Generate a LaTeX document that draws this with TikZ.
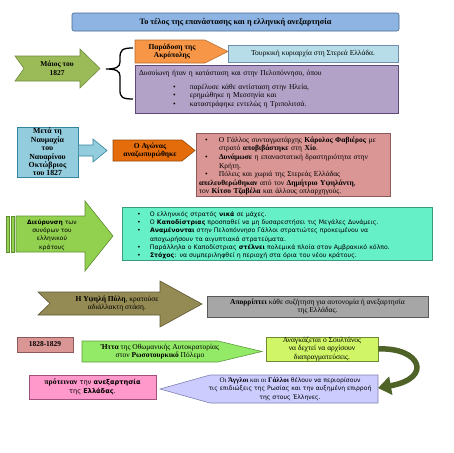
\documentclass[tikz,border=0pt]{standalone}
\usepackage{fontspec}
\setmainfont{Liberation Serif}
\newfontfamily\grsans{DejaVu Sans}
\usetikzlibrary{arrows.meta}
\definecolor{ctitle}{HTML}{8DB4E2}\definecolor{ctitleb}{HTML}{4A6A90}
\definecolor{cmay}{HTML}{9BBB59}\definecolor{cmayb}{HTML}{6F8A3C}
\definecolor{corange}{HTML}{F79646}\definecolor{corangeb}{HTML}{B66D31}
\definecolor{cltblue}{HTML}{B7DEE8}\definecolor{cltblueb}{HTML}{6F8FAF}
\definecolor{cpurple}{HTML}{B3A2C7}\definecolor{cpurpleb}{HTML}{5F497A}
\definecolor{cnav}{HTML}{93CDDD}\definecolor{cnavb}{HTML}{31859C}
\definecolor{corange2}{HTML}{E46C0A}\definecolor{corange2b}{HTML}{984807}
\definecolor{cpink}{HTML}{D99694}\definecolor{cpinkb}{HTML}{8C5A5A}
\definecolor{cgreen}{HTML}{92D050}\definecolor{cgreenb}{HTML}{5F8F30}
\definecolor{caqua}{HTML}{66F0C8}\definecolor{caquab}{HTML}{3A9A80}
\definecolor{colive}{HTML}{948A54}\definecolor{coliveb}{HTML}{5E5835}
\definecolor{cgray}{HTML}{A6A6A6}\definecolor{cgrayb}{HTML}{595959}
\definecolor{clgreen}{HTML}{92EA66}\definecolor{clgreenb}{HTML}{5F9A40}
\definecolor{cyellow}{HTML}{D0F566}\definecolor{cyellowb}{HTML}{6F8A30}
\definecolor{cdkgreen}{HTML}{4F6228}
\definecolor{clav}{HTML}{CCCCFF}\definecolor{clavb}{HTML}{7F7FAF}
\definecolor{cpink2}{HTML}{FF99CC}\definecolor{cpink2b}{HTML}{A0507A}
\newlength\bulind \newlength\bulpos
\newcommand{\bul}[1]{\par\noindent\hangindent=\bulind\hangafter=1\makebox[\bulind][l]{\hspace{\bulpos}\textbullet}#1}
\tikzset{
  txt/.style={inner sep=0pt, align=center, font=\fontsize{7.5}{8.6}\selectfont},
  sanstxt/.style={inner sep=0pt, align=center, font=\grsans\fontsize{5.8}{8}\selectfont},
  shp/.style={line width=0.6pt},
  rbox/.style={rectangle, line width=0.6pt, inner sep=0pt, align=center, font=\fontsize{7.5}{8.6}\selectfont},
}
\begin{document}
\begin{tikzpicture}[x=1pt,y=-1pt]
\useasboundingbox (0,0) rectangle (453,453);
% title
\node[rbox, rounded corners=2pt, fill=ctitle, draw=ctitleb, minimum width=327pt, minimum height=18pt, font=\bfseries\fontsize{8.2}{9}\selectfont] (title) at (235.5,22) {Το τέλος της επανάστασης και η ελληνική ανεξαρτησία};
% May 1827 arrow
\draw[shp, fill=cmay, draw=cmayb] (15,56) -- (80,56) -- (80,49) -- (100,68.5) -- (80,88) -- (80,81) -- (15,81) -- (24,68.5) -- cycle;
\node[txt, font=\bfseries\fontsize{7.5}{8.6}\selectfont] (may) at (57,68.5) {Μάιος του\\1827};
% brace
\draw[line width=1.3pt] (133,48) .. controls (122,48) and (120,50) .. (120,58) -- (120,62) .. controls (120,67) and (116,69) .. (106,69) .. controls (116,69) and (120,71) .. (120,76) -- (120,90) .. controls (120,97) and (122,99) .. (133,99);
% surrender of Acropolis
\draw[shp, fill=corange, draw=corangeb] (135,40) -- (205,40) -- (228,51.5) -- (205,63) -- (135,63) -- cycle;
\node[txt, font=\bfseries\fontsize{7.5}{8.6}\selectfont] (acro) at (172,51.5) {Παράδοση της\\Ακρόπολης};
\node[rbox, fill=cltblue, draw=cltblueb, minimum width=170pt, minimum height=17pt] (turk) at (313,53.5) {Τουρκική κυριαρχία στη Στερεά Ελλάδα.};
% purple box
\node[rbox, fill=cpurple, draw=cpurpleb, minimum width=263pt, minimum height=48pt, text width=255pt, align=left] (pelo) at (266.5,89) {\setlength\bulind{51pt}\setlength\bulpos{34pt}Δυσοίωνη ήταν η κατάσταση και στην Πελοπόννησο, όπου\par\vspace{5pt}
\bul{παρέλυσε κάθε αντίσταση στην Ηλεία,}
\bul{ερημώθηκε η Μεσσηνία και}
\bul{καταστράφηκε εντελώς η Τριπολιτσά.}};
% Navarino
\node[rbox, fill=cnav, draw=cnavb, minimum width=61pt, minimum height=50pt, font=\bfseries\fontsize{7.8}{8.4}\selectfont] (nav) at (47.5,152) {Μετά τη\\Ναυμαχία\\του\\Ναυαρίνου\\Οκτώβριος\\του 1827};
\draw[shp, fill=cnav, draw=cnavb] (nav.east |- 0,145) -- (93,145) -- (93,139) -- (107,150.5) -- (93,162) -- (93,156) -- (nav.east |- 0,156) -- cycle;
\draw[shp, fill=corange2, draw=corange2b] (113,140) -- (182,140) -- (195,150.5) -- (182,161) -- (113,161) -- cycle;
\node[txt, font=\bfseries\fontsize{7.5}{8.6}\selectfont] (agon) at (150,150.5) {Ο Αγώνας\\αναζωπυρώθηκε};
\node[rbox, fill=cpink, draw=cpinkb, minimum width=194pt, minimum height=63pt, text width=188pt, align=left] (fav) at (293,164.5) {\setlength\bulind{20pt}\setlength\bulpos{6pt}%
\bul{Ο Γάλλος συνταγματάρχης \textbf{Κάρολος Φαβιέρος} με\newline στρατό \textbf{αποβιβάστηκε} στη \textbf{Χίο}.}
\bul{\textbf{Δυνάμωσε} η επαναστατική δραστηριότητα στην\newline Κρήτη.}
\bul{Πόλεις και χωριά της Στερεάς Ελλάδας\newline \textbf{απελευθερώθηκαν} από τον \textbf{Δημήτριο Υψηλάντη},\newline τον \textbf{Κίτσο Τζαβέλα} και άλλους οπλαρχηγούς.}};
% Expansion arrow
\draw[shp, fill=cgreen, draw=cgreenb] (6,216) rectangle (9,252);
\draw[shp, fill=cgreen, draw=cgreenb] (11,216) rectangle (14,252);
\draw[shp, fill=cgreen, draw=cgreenb] (16,216) -- (85,216) -- (85,201) -- (113,236) -- (85,271) -- (85,252) -- (16,252) -- cycle;
\node[sanstxt, font=\grsans\fontsize{6}{8.2}\selectfont] (exp) at (52,235) {\textbf{Διεύρυνση} των\\συνόρων του\\ελληνικού\\κράτους};
\node[rbox, fill=caqua, draw=caquab, minimum width=310pt, minimum height=53pt, text width=304pt, align=left, font=\grsans\fontsize{6.2}{8.3}\selectfont] (kapo) at (277,233.5) {\setlength\bulind{25pt}\setlength\bulpos{12pt}%
\bul{Ο ελληνικός στρατός \textbf{νικά} σε μάχες.}
\bul{Ο \textbf{Καποδίστριας} προσπαθεί να μη δυσαρεστήσει τις Μεγάλες Δυνάμεις.}
\bul{\textbf{Αναμένονται} στην Πελοπόννησο Γάλλοι στρατιώτες προκειμένου να\newline αποχωρήσουν τα αιγυπτιακά στρατεύματα.}
\bul{Παράλληλα ο Καποδίστριας \textbf{στέλνει} πολεμικά πλοία στον Αμβρακικό κόλπο.}
\bul{\textbf{Στόχος}: να συμπεριληφθεί η περιοχή στα όρια του νέου κράτους.}};
% Sublime Porte
\draw[shp, fill=colive, draw=coliveb] (38,292) -- (160,292) -- (160,281) -- (202,304) -- (160,327) -- (160,315) -- (38,315) -- (50,303.5) -- cycle;
\node[txt] (porte) at (117,303.5) {\textbf{Η Υψηλή Πύλη}, κρατούσε\\αδιάλλακτη στάση.};
\node[rbox, fill=cgray, draw=cgrayb, minimum width=221pt, minimum height=21pt] (rej) at (317.5,306.5) {\textbf{Απορρίπτει} κάθε συζήτηση για αυτονομία ή ανεξαρτησία\\της Ελλάδας.};
% 1828-1829
\node[rbox, fill=cpink, draw=cpinkb, minimum width=56pt, minimum height=15pt, font=\bfseries\fontsize{7.5}{8.6}\selectfont] (yrs) at (45,344.5) {1828-1829};
\draw[shp, fill=clgreen, draw=clgreenb] (82,341) -- (218,341) -- (262,351.5) -- (218,362) -- (82,362) -- cycle;
\node[txt] (defeat) at (160,351.5) {\textbf{Ήττα} της Οθωμανικής Αυτοκρατορίας\\στον \textbf{Ρωσοτουρκικό} Πόλεμο};
\node[rbox, fill=cyellow, draw=cyellowb, minimum width=112pt, minimum height=24pt] (sult) at (322,349) {Αναγκάζεται ο Σουλτάνος\\να δεχτεί να αρχίσουν\\διαπραγματεύσεις.};
% England-France
\draw[shp, fill=clav, draw=clavb] (160,389) -- (210,375) -- (378,375) -- (378,403) -- (210,403) -- cycle;
\coordinate (lavE) at (378,388);
\node[txt, font=\fontsize{7}{8.6}\selectfont] (eng) at (290,389) {Οι \textbf{Άγγλοι} και οι \textbf{Γάλλοι} {\grsans\fontsize{6.1}{8.6}\selectfont θέλουν να περιορίσουν}\\{\grsans\fontsize{6.1}{8.6}\selectfont τις επιδιώξεις της Ρωσίας και την αυξημένη επιρροή}\\{\grsans\fontsize{6.1}{8.6}\selectfont της στους Έλληνες.}};
\node[rbox, fill=cpink2, draw=cpink2b, minimum width=127pt, minimum height=24pt, font=\grsans\fontsize{6.6}{8.6}\selectfont] (prop) at (92.5,387) {{\rmfamily\bfseries\fontsize{7.8}{8.6}\selectfont πρότειναν} την \textbf{ανεξαρτησία}\\της \textbf{Ελλάδας}.};
% curved arrow
\draw[line width=5.5pt, draw=cdkgreen, -{Triangle[length=13pt,width=18pt]}] (sult.east) .. controls (420,347) and (434,378) .. (lavE);
\end{tikzpicture}
\end{document}
